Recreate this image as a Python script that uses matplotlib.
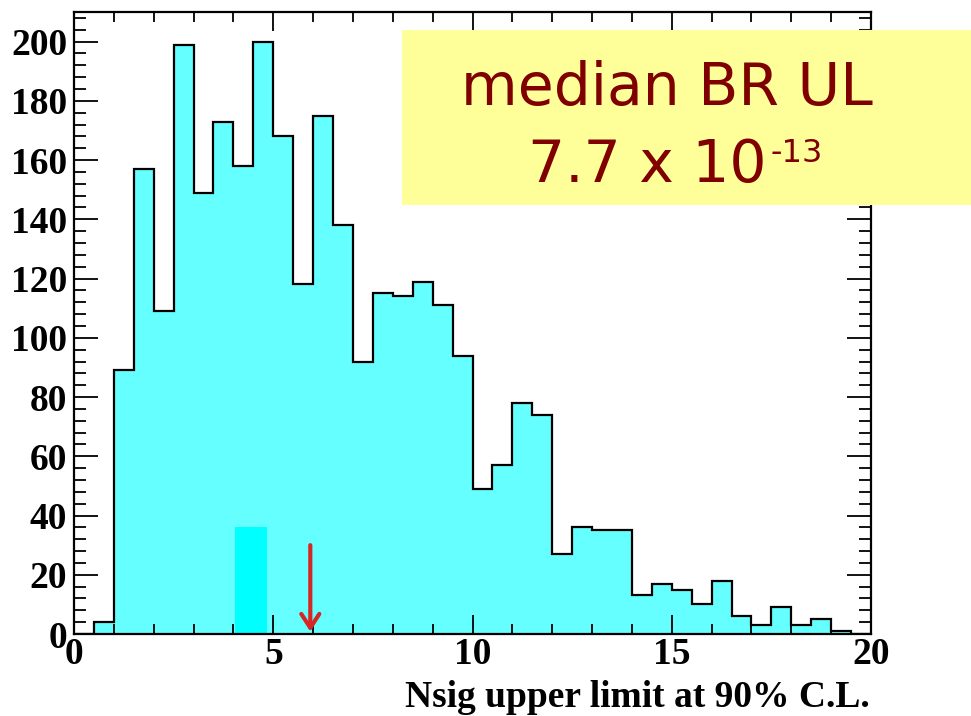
import matplotlib
matplotlib.use("Agg")
import matplotlib.pyplot as plt
import numpy as np
from matplotlib.patches import Rectangle
from matplotlib.ticker import MultipleLocator

# Histogram of Nsig upper limits (bin width 0.5 from 0 to 20)
bin_edges = np.linspace(0.0, 20.0, 41)
counts = [0, 4, 89, 157, 109, 199, 149, 173, 158, 200,
          168, 118, 175, 138, 92, 115, 114, 119, 111, 94,
          49, 57, 78, 74, 27, 36, 35, 35, 13, 17,
          15, 10, 18, 6, 3, 9, 3, 5, 1, 0]

# Highlighted band and observed-value arrow
band_x = [4.05, 4.85]
band_height = 36
arrow_x = 5.93
arrow_top = 30

x_ticks = [0, 5, 10, 15, 20]
y_ticks = [0, 20, 40, 60, 80, 100, 120, 140, 160, 180, 200]
x_label = "Nsig upper limit at 90% C.L."
box_line1 = "median BR UL"
box_line2 = "7.7 x 10"
box_exp = "-13"

W, H = 971, 716
fig = plt.figure(figsize=(W / 100, H / 100), dpi=100)
ax = fig.add_axes([74 / W, (H - 634) / H, (871 - 74) / W, (634 - 12) / H])

ax.stairs(counts, bin_edges, fill=True, color="#66FFFF", zorder=1)
ax.stairs(counts, bin_edges, fill=False, color="black", lw=1.6, zorder=3)

ax.add_patch(Rectangle((band_x[0], 0), band_x[1] - band_x[0], band_height,
                       facecolor="#00FFFF", edgecolor="none", zorder=2))

ax.annotate("", xy=(arrow_x, 0.8), xytext=(arrow_x, arrow_top),
            arrowprops=dict(arrowstyle="->,head_length=1.0,head_width=0.65",
                            color="#D72626", lw=3.0, shrinkA=0, shrinkB=0,
                            mutation_scale=10),
            zorder=4)

ax.set_xlim(0, 20)
ax.set_ylim(0, 210)
ax.set_xticks(x_ticks)
ax.set_yticks(y_ticks)
ax.xaxis.set_minor_locator(MultipleLocator(1))
ax.yaxis.set_minor_locator(MultipleLocator(4))

tick_font = dict(family="Liberation Serif", weight="bold", size=27)
ax.set_xticklabels([str(t) for t in x_ticks], fontdict=tick_font)
ax.set_yticklabels([str(t) for t in y_ticks], fontdict=tick_font)

ax.tick_params(axis="both", which="both", direction="in", top=True, right=True,
               width=1.3, colors="black")
ax.tick_params(axis="x", which="major", length=13.5, pad=2)
ax.tick_params(axis="x", which="minor", length=7)
ax.tick_params(axis="y", which="major", length=17.5, pad=5)
ax.tick_params(axis="y", which="minor", length=8.5)
for sp in ax.spines.values():
    sp.set_linewidth(1.6)
    sp.set_zorder(5)

fig.text(870 / W, 1 - 707 / H, x_label, ha="right", va="baseline",
         family="Liberation Serif", weight="bold", size=27)

# Annotation box
fig.patches.append(Rectangle((402 / W, 1 - 205 / H), (W - 402) / W, 175 / H,
                             transform=fig.transFigure, facecolor="#FFFF99",
                             edgecolor="none", zorder=10))
box_font = dict(family="DejaVu Sans", color="#800000", zorder=11)
fig.text(667 / W, 1 - 105 / H, box_line1, ha="center", va="baseline",
         size=42, **box_font)
t2 = fig.text(528 / W, 1 - 182 / H, box_line2, ha="left", va="baseline",
              size=42, **box_font)
fig.canvas.draw()
bb = t2.get_window_extent()
fig.text((bb.x1 + 4) / W, 1 - 162 / H, box_exp, ha="left", va="baseline",
         size=23, **box_font)

fig.savefig("out.png", dpi=100)
